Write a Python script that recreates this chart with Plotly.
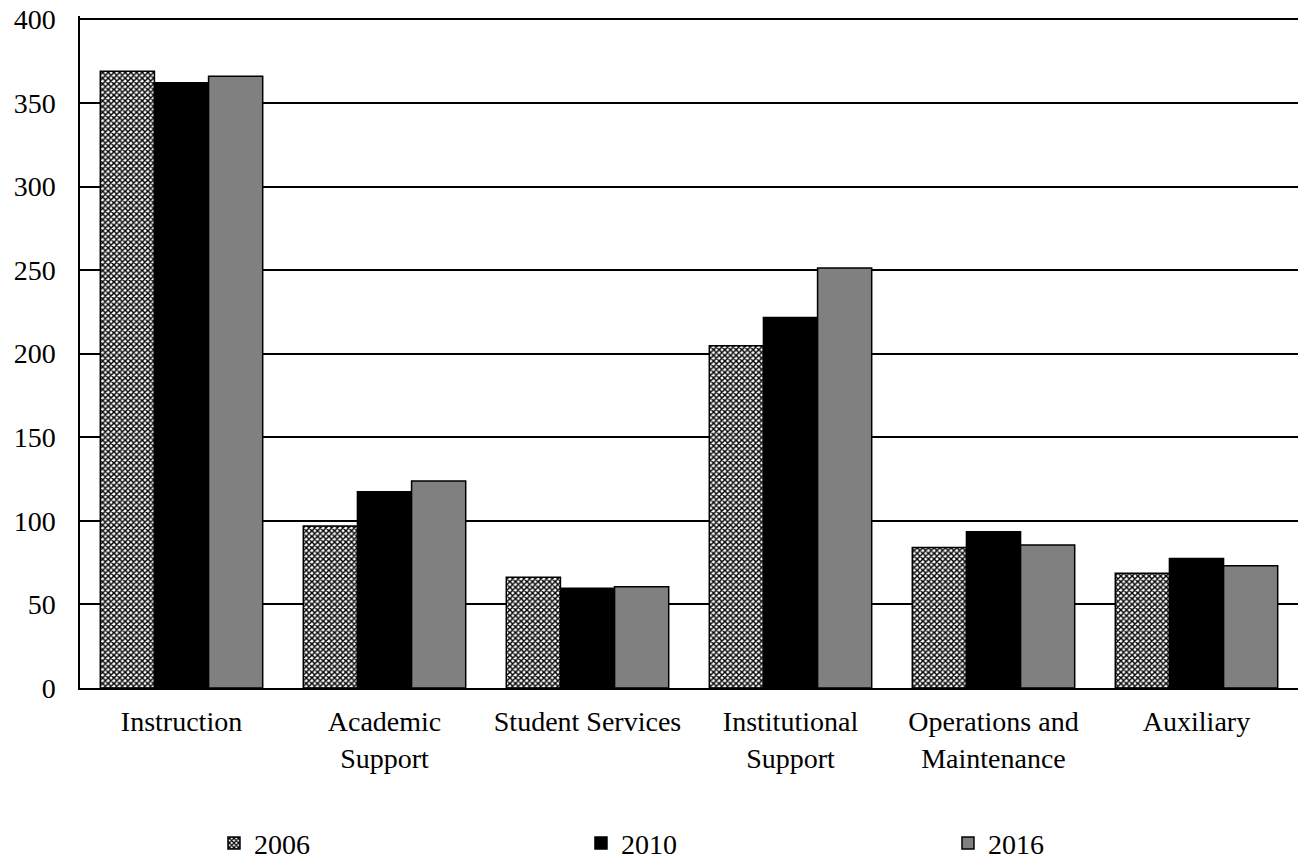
import plotly.graph_objects as go

categories = ["Instruction", "Academic<br>Support", "Student Services",
              "Institutional<br>Support", "Operations and<br>Maintenance", "Auxiliary"]
years = ["2006", "2010", "2016"]
v2006 = [368.9, 96.9, 66.2, 204.7, 84.1, 68.6]
v2010 = [362.0, 117.4, 59.6, 221.6, 93.5, 77.5]
v2016 = [366.0, 123.8, 60.6, 251.3, 85.5, 73.1]
y_ticks = [0, 50, 100, 150, 200, 250, 300, 350, 400]

FONT = "Liberation Serif, Times New Roman, serif"
FS = 28

fig = go.Figure()
fig.add_trace(go.Bar(
    name=years[0], x=categories, y=v2006,
    marker=dict(color="white", line=dict(color="black", width=1.5),
                pattern=dict(shape="x", fgcolor="black", bgcolor="white",
                             size=4, solidity=0.6, fillmode="replace")),
))
fig.add_trace(go.Bar(
    name=years[1], x=categories, y=v2010,
    marker=dict(color="black", line=dict(color="black", width=1.5)),
))
fig.add_trace(go.Bar(
    name=years[2], x=categories, y=v2016,
    marker=dict(color="#808080", line=dict(color="black", width=1.5)),
))

fig.update_layout(
    width=1304, height=861,
    margin=dict(l=80, r=6, t=16, b=173, autoexpand=False),
    paper_bgcolor="white", plot_bgcolor="white",
    font=dict(family=FONT, size=FS, color="black"),
    barmode="group", bargap=0.2, bargroupgap=0,
    showlegend=True,
    legend=dict(orientation="h", x=0.11, xanchor="left", y=-0.231, yanchor="middle",
                entrywidth=322, entrywidthmode="pixels",
                font=dict(family=FONT, size=FS, color="black"),
                traceorder="normal"),
)
fig.update_xaxes(
    showline=True, linecolor="black", linewidth=1.5,
    showgrid=False, ticks="", tickfont=dict(size=FS),
    ticklabelstandoff=8,
)
fig.update_yaxes(
    range=[0, 402], tickvals=y_ticks, ticktext=[str(t) for t in y_ticks],
    showline=True, linecolor="black", linewidth=1.5,
    showgrid=True, gridcolor="black", gridwidth=1.5,
    zeroline=False, ticks="", tickfont=dict(size=FS),
    ticklabelstandoff=17,
)

fig.write_html("out.html")
